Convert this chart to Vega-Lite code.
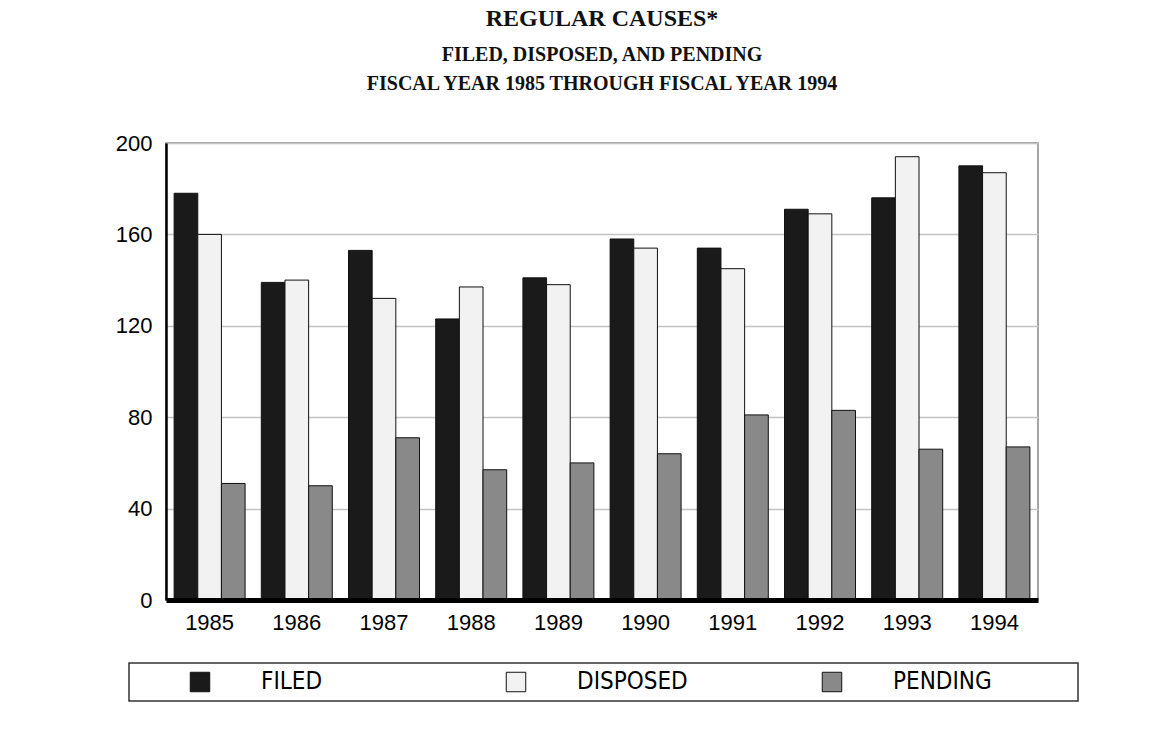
{
  "$schema": "https://vega.github.io/schema/vega-lite/v6.json",
  "autosize": "none",
  "width": 872,
  "height": 457,
  "padding": {"left": 166, "top": 143, "right": 134, "bottom": 147},
  "background": "white",
  "title": {
    "text": "REGULAR CAUSES*",
    "subtitle": ["FILED, DISPOSED, AND PENDING", "FISCAL YEAR 1985 THROUGH FISCAL YEAR 1994"],
    "font": "Liberation Serif",
    "fontSize": 24,
    "fontWeight": "bold",
    "color": "#111",
    "subtitleFont": "Liberation Serif",
    "subtitleFontSize": 20,
    "subtitleFontWeight": "bold",
    "subtitleColor": "#111",
    "subtitleLineHeight": 29,
    "subtitlePadding": 14,
    "anchor": "middle",
    "frame": "group",
    "offset": 38
  },
  "data": {
    "values": [
      {"year": "1985", "series": "FILED", "value": 178},
      {"year": "1985", "series": "DISPOSED", "value": 160},
      {"year": "1985", "series": "PENDING", "value": 51},
      {"year": "1986", "series": "FILED", "value": 139},
      {"year": "1986", "series": "DISPOSED", "value": 140},
      {"year": "1986", "series": "PENDING", "value": 50},
      {"year": "1987", "series": "FILED", "value": 153},
      {"year": "1987", "series": "DISPOSED", "value": 132},
      {"year": "1987", "series": "PENDING", "value": 71},
      {"year": "1988", "series": "FILED", "value": 123},
      {"year": "1988", "series": "DISPOSED", "value": 137},
      {"year": "1988", "series": "PENDING", "value": 57},
      {"year": "1989", "series": "FILED", "value": 141},
      {"year": "1989", "series": "DISPOSED", "value": 138},
      {"year": "1989", "series": "PENDING", "value": 60},
      {"year": "1990", "series": "FILED", "value": 158},
      {"year": "1990", "series": "DISPOSED", "value": 154},
      {"year": "1990", "series": "PENDING", "value": 64},
      {"year": "1991", "series": "FILED", "value": 154},
      {"year": "1991", "series": "DISPOSED", "value": 145},
      {"year": "1991", "series": "PENDING", "value": 81},
      {"year": "1992", "series": "FILED", "value": 171},
      {"year": "1992", "series": "DISPOSED", "value": 169},
      {"year": "1992", "series": "PENDING", "value": 83},
      {"year": "1993", "series": "FILED", "value": 176},
      {"year": "1993", "series": "DISPOSED", "value": 194},
      {"year": "1993", "series": "PENDING", "value": 66},
      {"year": "1994", "series": "FILED", "value": 190},
      {"year": "1994", "series": "DISPOSED", "value": 187},
      {"year": "1994", "series": "PENDING", "value": 67}
    ]
  },
  "mark": {"type": "bar", "stroke": "#111", "strokeWidth": 1},
  "encoding": {
    "x": {
      "field": "year",
      "type": "nominal",
      "scale": {"paddingInner": 0.186, "paddingOuter": 0.093},
      "axis": {
        "title": null,
        "labelAngle": 0,
        "ticks": false,
        "labelFont": "Liberation Sans",
        "labelFontSize": 22,
        "labelColor": "#000",
        "labelPadding": 12,
        "domainColor": "#000",
        "domainWidth": 5,
        "grid": false,
        "zindex": 1
      }
    },
    "xOffset": {
      "field": "series",
      "type": "nominal",
      "sort": ["FILED", "DISPOSED", "PENDING"],
      "scale": {"paddingInner": 0, "paddingOuter": 0}
    },
    "y": {
      "field": "value",
      "type": "quantitative",
      "scale": {"domain": [0, 200], "nice": false},
      "axis": {
        "title": null,
        "values": [0, 40, 80, 120, 160, 200],
        "ticks": false,
        "labelFont": "Liberation Sans",
        "labelFontSize": 22,
        "labelColor": "#000",
        "labelPadding": 14,
        "domainColor": "#000",
        "domainWidth": 2.5,
        "gridColor": "#c4c4c4",
        "gridWidth": 1.5
      }
    },
    "fill": {
      "field": "series",
      "type": "nominal",
      "sort": ["FILED", "DISPOSED", "PENDING"],
      "scale": {"domain": ["FILED", "DISPOSED", "PENDING"], "range": ["#1a1a1a", "#f2f2f2", "#898989"]},
      "legend": {
        "orient": "none",
        "legendX": -37,
        "legendY": 520,
        "direction": "horizontal",
        "columns": 3,
        "gridAlign": "all",
        "symbolType": "square",
        "symbolSize": 380,
        "symbolStrokeColor": "#111",
        "symbolStrokeWidth": 1,
        "labelFont": "DejaVu Sans Condensed, Liberation Sans, sans-serif",
        "labelFontSize": 24,
        "labelColor": "#000",
        "labelOffset": 49,
        "labelLimit": 400,
        "labelExpr": "datum.label + '\u2800\u2800\u2800\u2800\u2800'",
        "columnPadding": 53,
        "padding": 7,
        "strokeColor": "#333",
        "fillColor": "white",
        "title": " ",
        "titleOrient": "left",
        "titleFontSize": 1,
        "titlePadding": 52
      }
    }
  },
  "config": {
    "view": {"stroke": "#888", "strokeWidth": 1.5},
    "legend": {"strokeWidth": 1.5}
  }
}
